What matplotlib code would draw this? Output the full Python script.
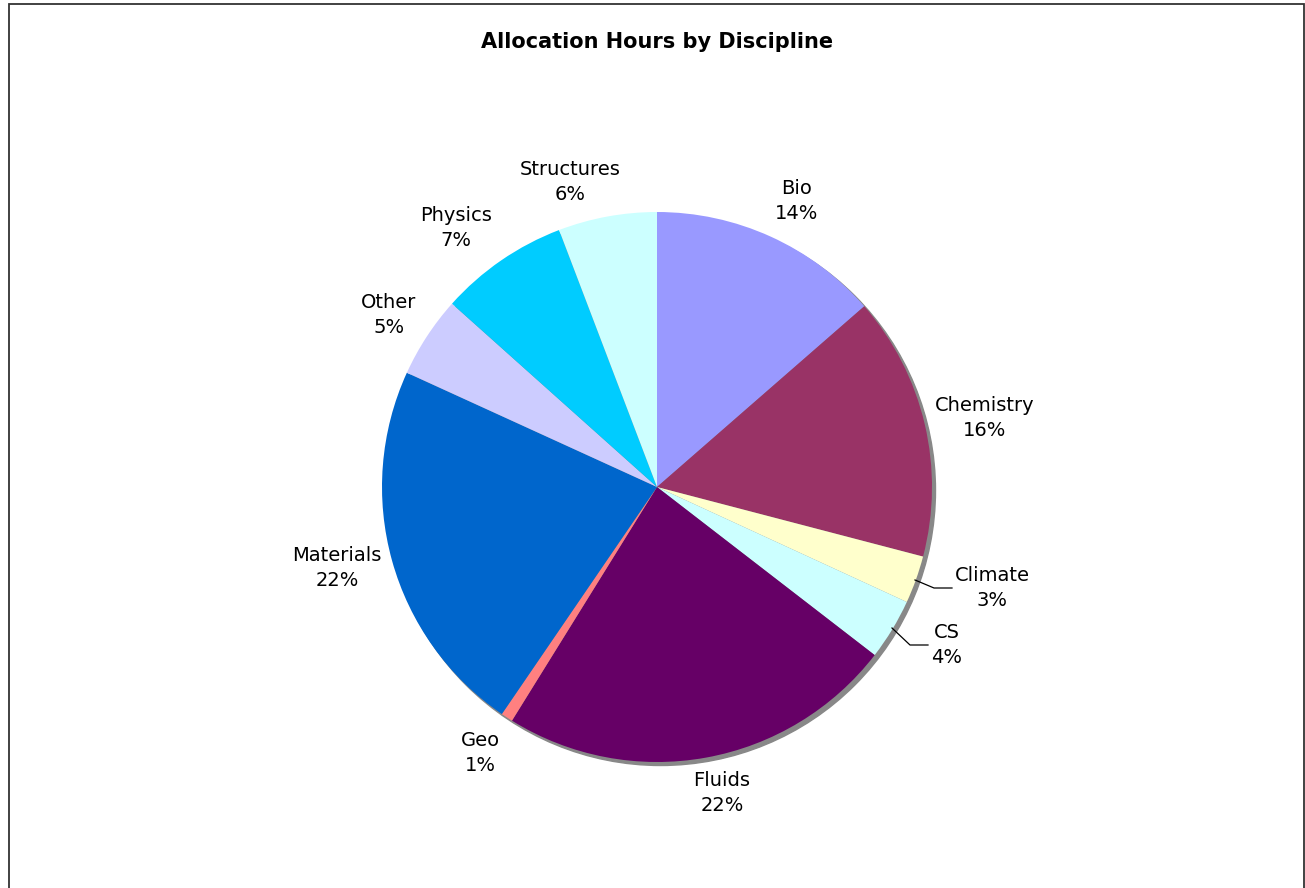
import matplotlib
matplotlib.use("Agg")
import matplotlib.pyplot as plt
from matplotlib.patches import Circle, Rectangle

# slice shares (percent of total hours), clockwise from 12 o'clock
disciplines = ["Bio", "Chemistry", "Climate", "CS", "Fluids", "Geo",
               "Materials", "Other", "Physics", "Structures"]
shares = [13.6, 15.5, 2.8, 3.6, 23.4, 0.7, 22.3, 4.8, 7.6, 5.8]
pct_labels = ["14%", "16%", "3%", "4%", "22%", "1%", "22%", "5%", "7%", "6%"]
colors = ["#9999FF", "#993366", "#FFFFCC", "#CCFFFF", "#660066", "#FF8080",
          "#0066CC", "#CCCCFF", "#00CCFF", "#CCFFFF"]

W, H = 1305, 888
CX, CY, R = 657, 487, 275  # pie centre / radius in pixels

# label block centres in pixels (layout only)
label_px = [(797, 201), (985, 418), (992, 588), (947, 645), (722, 793),
            (480, 753), (337, 568), (389, 315), (456, 228), (570, 182)]
# leader lines for the small slices (pixels)
leaders = {"Climate": [(915, 580), (934, 588), (952, 588)],
           "CS": [(892, 628), (910, 645), (928, 645)]}


def to_data(px, py):
    return (px - CX) / R, (CY - py) / R


fig = plt.figure(figsize=(W / 100, H / 100), dpi=100)
ax = fig.add_axes([0, 0, 1, 1])

# drop shadow behind the pie
ax.add_patch(Circle((3.5 / R, -3.5 / R), 1.0, color="#888888", zorder=0))

ax.pie(shares, colors=colors, startangle=90, counterclock=False, radius=1,
       center=(0, 0), wedgeprops={"linewidth": 0, "zorder": 1})

for name, pct, (px, py) in zip(disciplines, pct_labels, label_px):
    x, y = to_data(px, py)
    ax.text(x, y, f"{name}\n{pct}", ha="center", va="center", fontsize=14,
            linespacing=1.45, family="DejaVu Sans")

for pts in leaders.values():
    xs, ys = zip(*[to_data(px, py) for px, py in pts])
    ax.plot(xs, ys, color="black", linewidth=0.9)

ax.set_xlim(-CX / R, (W - CX) / R)
ax.set_ylim(-(H - CY) / R, CY / R)
ax.set_aspect("auto")
ax.axis("off")

fig.text(CX / W, 1 - 42 / H, "Allocation Hours by Discipline", ha="center",
         va="center", fontsize=15, weight="bold")

# chart frame (bottom edge falls off the image)
fig.add_artist(Rectangle((8.5 / W, -0.05), (1304 - 8.5) / W, 1.05 - 4.5 / H,
                         transform=fig.transFigure, fill=False,
                         edgecolor="#333333", linewidth=1.3))

fig.savefig("out.png", dpi=100)
